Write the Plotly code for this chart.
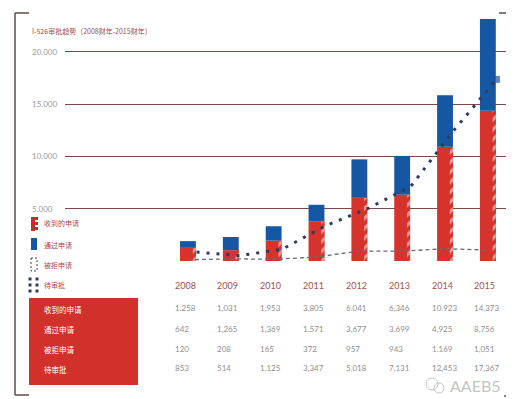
import plotly.graph_objects as go

years = ["2008", "2009", "2010", "2011", "2012", "2013", "2014", "2015"]
received = [1258, 1031, 1953, 3805, 6041, 6346, 10923, 14373]
approved = [642, 1265, 1369, 1571, 3677, 3699, 4925, 8756]
denied = [120, 208, 165, 372, 957, 943, 1169, 1051]
pending = [853, 514, 1125, 3347, 5018, 7131, 12453, 17367]

received_lbl = ["1.258", "1,031", "1,953", "3,805", "6.041", "6,346", "10.923", "14.373"]
approved_lbl = ["642", "1,265", "1,369", "1.571", "3,677", "3.699", "4,925", "8,756"]
denied_lbl = ["120", "208", "165", "372", "957", "943", "1.169", "1,051"]
pending_lbl = ["853", "514", "1,125", "3,347", "5,018", "7,131", "12,453", "17,367"]

row_names = ["收到的申请", "通过申请", "被拒申请", "待审批"]
y_ticks = [5000, 10000, 15000, 20000]
y_tick_text = ["5.000", "10.000", "15.000", "20.000"]
title = "I-526审批趋势（2008财年-2015财年）"

W, H = 514, 399
RED = "#d5332b"
BLUE = "#1557a3"
NAVY = "#2e3a5e"
CJK = "Noto Sans CJK SC"
NUM = "Lato"

def px(xp):
    return xp / W

def py(yp):
    return 1 - yp / H

xi = list(range(len(years)))
bw = 0.37

fig = go.Figure()
# received (red)
fig.add_trace(go.Bar(x=xi, y=received, width=bw, offset=-bw / 2,
                     marker=dict(color=RED, line=dict(width=0)), hoverinfo="skip"))
# zigzag strip on right edge of red bars
sw = 0.075
fig.add_trace(go.Bar(x=xi, y=received, width=sw, offset=bw / 2 - sw,
                     marker=dict(color=RED, line=dict(width=0),
                                 pattern=dict(shape="/", fgcolor="white", bgcolor=RED,
                                              size=7, solidity=0.45)),
                     hoverinfo="skip"))
# approved (blue) stacked on received
fig.add_trace(go.Bar(x=xi, y=approved, base=received, width=bw, offset=-bw / 2,
                     marker=dict(color=BLUE, line=dict(width=0)), hoverinfo="skip"))
# denied dashed line
fig.add_trace(go.Scatter(x=xi, y=denied, mode="lines",
                         line=dict(color="#6a6a78", width=1.3, dash="4px,3px"),
                         hoverinfo="skip"))
# pending dotted line
sizes = [0] * (len(pending) - 1) + [7]
fig.add_trace(go.Scatter(x=[v + 0.2 for v in xi], y=pending, mode="lines+markers",
                         line=dict(color=NAVY, width=3, dash="3px,7px"),
                         marker=dict(size=sizes, symbol="square", color=BLUE,
                                     line=dict(width=0)),
                         cliponaxis=False, hoverinfo="skip"))

ann = []
# title
ann.append(dict(x=px(22), y=py(23), xref="paper", yref="paper", text=title,
                showarrow=False, xanchor="left", yanchor="middle",
                font=dict(family=CJK, size=7, color="#a34a45")))
# y tick labels
for v, t in zip(y_ticks, y_tick_text):
    ann.append(dict(x=px(22), y=v, xref="paper", yref="y", text=t, showarrow=False,
                    xanchor="left", yanchor="middle",
                    font=dict(family=NUM, size=8, color="#9a9a9a")))
# years
for i, yr in enumerate(years):
    ann.append(dict(x=i - 0.36, y=py(277), xref="x", yref="paper", text=yr,
                    showarrow=False, xanchor="left", yanchor="middle",
                    font=dict(family=NUM, size=9, color="#a5504e")))
# table values
rows = [received_lbl, approved_lbl, denied_lbl, pending_lbl]
row_y = [300, 321, 341, 360]
for r, yy in zip(rows, row_y):
    for i, t in enumerate(r):
        ann.append(dict(x=i - 0.36, y=py(yy), xref="x", yref="paper", text=t,
                        showarrow=False, xanchor="left", yanchor="middle",
                        font=dict(family=NUM, size=8, color="#8f8f8f")))
# table row names
for name, yy in zip(row_names, [301, 321, 341, 361]):
    ann.append(dict(x=px(34), y=py(yy), xref="paper", yref="paper", text=name,
                    showarrow=False, xanchor="left", yanchor="middle",
                    font=dict(family=CJK, size=7.5, color="white")))
# legend texts
for name, yy in zip(row_names, [215, 237, 257, 277]):
    ann.append(dict(x=px(34), y=py(yy), xref="paper", yref="paper", text=name,
                    showarrow=False, xanchor="left", yanchor="middle",
                    font=dict(family=CJK, size=7, color="#b0464a")))
# watermark
ann.append(dict(x=px(440), y=py(377), xref="paper", yref="paper", text="AAEB5",
                showarrow=False, xanchor="left", yanchor="middle",
                font=dict(family="Lato", size=16, color="#c4c4c4")))

shapes = []
frame = dict(color="#5b4b4b", width=1.5)
def seg(x0, y0, x1, y1, line=frame):
    shapes.append(dict(type="line", xref="paper", yref="paper",
                       x0=px(x0), y0=py(y0), x1=px(x1), y1=py(y1), line=line))
# bracket frame
seg(7, 5, 7, 387); seg(7, 5, 21, 5); seg(7, 387, 21, 387)
seg(504, 5, 504, 388); seg(491, 5, 504, 5); seg(496, 388, 504, 388)

def rect(x0, y0, x1, y1, fill, line=None):
    shapes.append(dict(type="rect", xref="paper", yref="paper",
                       x0=px(x0), y0=py(y0), x1=px(x1), y1=py(y1),
                       fillcolor=fill, line=line or dict(width=0)))
# table box
rect(21, 290, 130, 377, "#d2302a")
# legend icons
rect(23, 209, 27, 223, "#b8332c")
for yy in [209, 214, 219]:
    rect(27, yy, 30, yy + 3, "#b8332c")
rect(23, 230, 29, 242, BLUE)
shapes.append(dict(type="rect", xref="paper", yref="paper",
                   x0=px(23), y0=py(250), x1=px(29), y1=py(263),
                   fillcolor="rgba(0,0,0,0)",
                   line=dict(color="#444", width=1, dash="2px,2px")))
for yy in [271, 277, 283]:
    for xx in [22, 29]:
        rect(xx - 1.5, yy - 1.5, xx + 1.5, yy + 1.5, NAVY)
# wechat-like icon
for (cx, cy, r) in [(424, 376, 6), (431, 380, 5)]:
    shapes.append(dict(type="circle", xref="paper", yref="paper",
                       x0=px(cx - r), y0=py(cy - r), x1=px(cx + r), y1=py(cy + r),
                       line=dict(color="#c4c4c4", width=1)))

y0px, slope = 253, 10.46 / 1000
fig.update_layout(
    width=W, height=H, margin=dict(l=0, r=0, t=0, b=0),
    paper_bgcolor="white", plot_bgcolor="rgba(0,0,0,0)",
    barmode="overlay", showlegend=False,
    xaxis=dict(domain=[px(57), px(500)], range=[-2.87, 7.47], visible=False,
               fixedrange=True),
    yaxis=dict(domain=[py(257), py(5)],
               range=[-(257 - y0px) / slope, (y0px - 5) / slope],
               tickvals=y_ticks, showticklabels=False, showgrid=True,
               gridcolor="#7d4848", gridwidth=1, zeroline=False, showline=False,
               ticks="", fixedrange=True),
    annotations=ann, shapes=shapes,
)
fig.write_html("out.html")
